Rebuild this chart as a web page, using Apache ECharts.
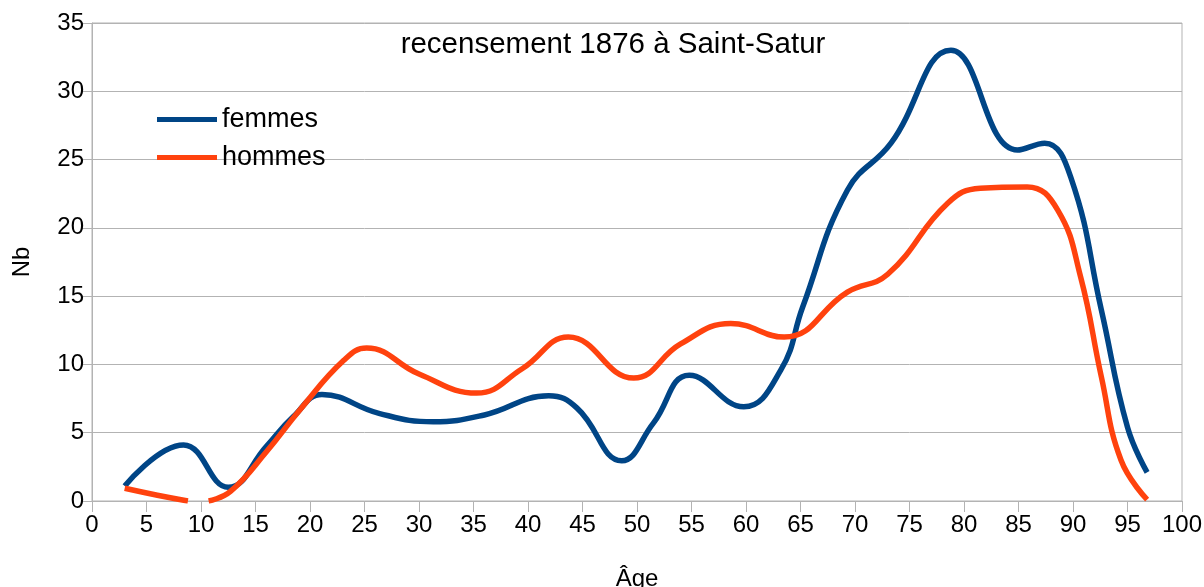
<!DOCTYPE html>
<html lang="fr">
<head>
  <meta charset="UTF-8">
  <title>recensement 1876 à Saint-Satur</title>
  <style>
    html, body { margin: 0; padding: 0; background: #fff; }
    #chart { width: 1204px; height: 587px; }
  </style>
</head>
<body>
  <div id="chart"></div>
  <script src="https://cdn.jsdelivr.net/npm/echarts@6.0.0/dist/echarts.min.js"></script>
  <script>
    // points (age, nb)
    var femmesAges = [3, 8.4, 12.5, 16, 18.5, 21.1, 26.4, 31.3, 36, 41.9, 44.5, 48.6, 51.5, 54.8, 59.8, 63.2, 65.2, 69.3, 73.3, 78.8, 84.9, 87.4, 89.8, 92.6, 95, 96.8];
    var femmesNb   = [1.1, 4.1, 1.0, 4.0, 6.2, 7.8, 6.4, 5.8, 6.3, 7.7, 6.8, 2.95, 5.7, 9.2, 6.9, 9.6, 14.2, 22.75, 26.2, 33.0, 25.7, 26.2, 23.7, 14.0, 5.4, 2.1];

    // the men's curve dips under 0 around 10 years and is cut there
    var hommesAges = [3, 6, 8.8, 9.8, 10.7, 12.7, 16, 19.1, 23.1, 25.2, 30, 35.3, 39.5, 43.7, 49.7, 54, 58.6, 63.5, 69.3, 73, 78.5, 81.5, 85.8, 88.6, 90.7, 92.6, 94.4, 96.8];
    var hommesNb   = [0.93, 0.42, 0, null, 0, 0.7, 3.6, 6.7, 10.3, 11.2, 9.3, 7.9, 9.7, 12.0, 9.0, 11.5, 13.0, 12.0, 15.3, 16.6, 21.8, 22.9, 23.0, 21.3, 16.4, 9.1, 3.0, 0.1];

    var xTicks = { min: 0, max: 100, interval: 5 };
    var yTicks = { min: 0, max: 35, interval: 5 };

    function pairs(xs, ys) {
      return xs.map(function (x, i) {
        return [x, ys[i] === null ? '-' : ys[i]];
      });
    }

    var font = 'Liberation Sans, Arial, sans-serif';
    var grey = '#b3b3b3';

    var myChart = echarts.init(document.getElementById('chart'));
    var option = {
      animation: false,
      textStyle: { fontFamily: font, color: '#000' },
      title: {
        text: 'recensement 1876 à Saint-Satur',
        left: 608,
        textAlign: 'center',
        top: 25,
        textStyle: { fontFamily: font, fontSize: 29.5, fontWeight: 'normal', color: '#000' }
      },
      legend: {
        orient: 'vertical',
        left: 152,
        top: 101,
        icon: 'rect',
        itemWidth: 60,
        itemHeight: 5,
        itemGap: 11,
        textStyle: { fontFamily: font, fontSize: 27, color: '#000' },
        data: ['femmes', 'hommes']
      },
      grid: {
        left: 92,
        right: 22,
        top: 23,
        bottom: 86,
        outerBoundsMode: 'none',
        show: true,
        borderColor: grey,
        borderWidth: 1
      },
      xAxis: {
        type: 'value',
        min: xTicks.min,
        max: xTicks.max,
        interval: xTicks.interval,
        name: 'Âge',
        nameLocation: 'middle',
        nameGap: 66,
        nameTextStyle: { fontFamily: font, fontSize: 24, color: '#000' },
        axisLine: { lineStyle: { color: grey } },
        axisTick: { show: true, length: 11, lineStyle: { color: grey } },
        axisLabel: { fontFamily: font, fontSize: 24, color: '#000', margin: 12 },
        splitLine: { show: false }
      },
      yAxis: {
        type: 'value',
        min: yTicks.min,
        max: yTicks.max,
        interval: yTicks.interval,
        name: 'Nb',
        nameLocation: 'middle',
        nameRotate: 90,
        nameGap: 58,
        nameTextStyle: { fontFamily: font, fontSize: 24, color: '#000' },
        axisLine: { show: true, lineStyle: { color: grey } },
        axisTick: { show: true, length: 11, lineStyle: { color: grey } },
        axisLabel: { fontFamily: font, fontSize: 24, color: '#000', margin: 8 },
        splitLine: { show: true, lineStyle: { color: grey, width: 1 } }
      },
      series: [
        {
          name: 'femmes',
          type: 'line',
          smooth: 0.45,
          symbol: 'none',
          color: '#004586',
          lineStyle: { width: 5.5, color: '#004586' },
          data: pairs(femmesAges, femmesNb)
        },
        {
          name: 'hommes',
          type: 'line',
          smooth: 0.45,
          symbol: 'none',
          connectNulls: false,
          color: '#ff420e',
          lineStyle: { width: 5.5, color: '#ff420e' },
          data: pairs(hommesAges, hommesNb)
        }
      ]
    };
    myChart.setOption(option);
  </script>
</body>
</html>
